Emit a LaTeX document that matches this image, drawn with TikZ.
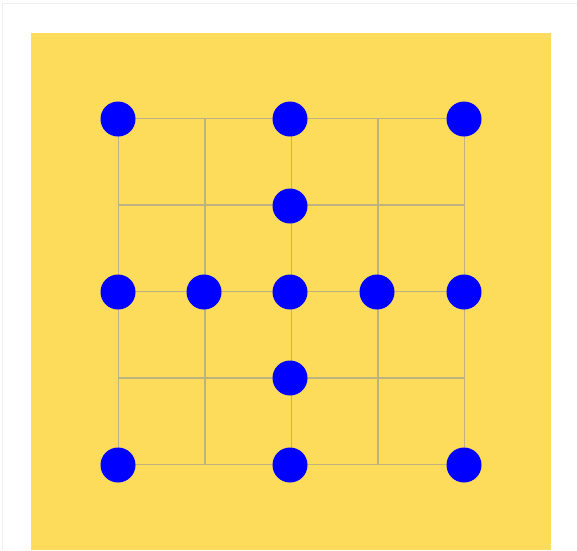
\documentclass[tikz,border=0pt]{standalone}
\begin{document}
\begin{tikzpicture}[x=1pt,y=-1pt]
\definecolor{board}{RGB}{253,220,92}
\definecolor{frame}{RGB}{238,238,238}
\definecolor{gridc}{RGB}{190,178,130}
\definecolor{dotc}{RGB}{0,0,255}
\tikzset{
  gridline/.style={draw=gridc, line width=1.8pt},
  dot/.style={circle, fill=dotc, minimum size=35pt, inner sep=0pt}}
\useasboundingbox (0,0) rectangle (577,550);
\fill[white] (0,0) rectangle (577,550);
\draw[frame, line width=1.5pt] (2.5,550) -- (2.5,3.5) -- (577,3.5);
\fill[board] (31,33) rectangle (551,550);
\foreach \i in {118.5,205,291.5,378,464.5} {
  \draw[gridline] (118.5,\i) -- (464.5,\i);
  \draw[gridline] (\i,118.5) -- (\i,464.5);
}
\node[dot] (a1) at (118,119) {};
\node[dot] (a2) at (290,119) {};
\node[dot] (a3) at (464,119) {};
\node[dot] (b1) at (290,206) {};
\node[dot] (c1) at (118,292) {};
\node[dot] (c2) at (204,292) {};
\node[dot] (c3) at (290,292) {};
\node[dot] (c4) at (377,292) {};
\node[dot] (c5) at (464,292) {};
\node[dot] (d1) at (290,378) {};
\node[dot] (e1) at (118,465) {};
\node[dot] (e2) at (290,465) {};
\node[dot] (e3) at (464,465) {};
\end{tikzpicture}
\end{document}
